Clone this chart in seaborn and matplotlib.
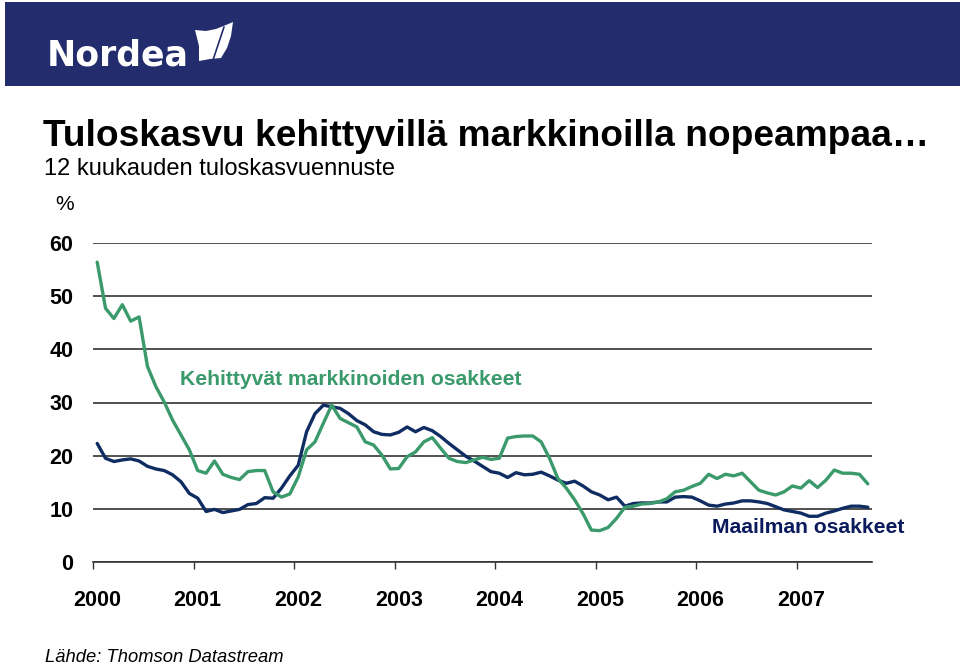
import numpy as np
import pandas as pd
import matplotlib
matplotlib.use("Agg")
import matplotlib.pyplot as plt
import seaborn as sns
from matplotlib.patches import Rectangle, Polygon

# ---- data (monthly, Jan 2000 .. Sep 2007) ----
years = ["2000", "2001", "2002", "2003", "2004", "2005", "2006", "2007"]
series_names = ["Maailman osakkeet", "Kehittyvät markkinoiden osakkeet"]

emerging = [56.4, 47.7, 45.8, 48.4, 45.3, 46.1, 36.8, 33.0, 30.1, 26.7, 23.9, 21.1,
            17.2, 16.7, 19.0, 16.5, 15.9, 15.5, 17.0, 17.2, 17.2, 13.2, 12.2, 12.8,
            16.0, 21.1, 22.6, 26.1, 29.5, 27.0, 26.2, 25.4, 22.6, 22.0, 20.1, 17.5,
            17.6, 19.8, 20.7, 22.6, 23.4, 21.4, 19.5, 18.9, 18.7, 19.2, 19.7, 19.3,
            19.5, 23.3, 23.6, 23.7, 23.7, 22.6, 19.5, 15.7, 13.9, 11.7, 9.1, 6.0,
            5.9, 6.5, 8.2, 10.3, 10.5, 10.9, 11.0, 11.3, 11.9, 13.2, 13.5, 14.2,
            14.8, 16.5, 15.7, 16.5, 16.2, 16.7, 15.1, 13.5, 13.0, 12.6, 13.2, 14.3,
            13.9, 15.3, 14.0, 15.4, 17.3, 16.7, 16.7, 16.5, 14.7]

world = [22.3, 19.5, 18.9, 19.2, 19.4, 19.0, 18.0, 17.5, 17.2, 16.4, 15.1, 12.9,
         12.0, 9.5, 9.9, 9.3, 9.6, 9.9, 10.8, 11.0, 12.1, 12.0, 13.9, 16.2,
         18.2, 24.5, 27.9, 29.5, 29.2, 28.9, 27.9, 26.6, 25.8, 24.5, 24.0, 23.9,
         24.4, 25.4, 24.5, 25.3, 24.7, 23.6, 22.3, 21.1, 19.9, 19.0, 18.0, 17.0,
         16.7, 15.9, 16.8, 16.4, 16.5, 16.9, 16.2, 15.4, 14.8, 15.2, 14.3, 13.2,
         12.6, 11.7, 12.2, 10.5, 11.0, 11.1, 11.1, 11.3, 11.3, 12.2, 12.3, 12.2,
         11.5, 10.7, 10.5, 10.9, 11.1, 11.5, 11.5, 11.3, 11.0, 10.4, 9.8, 9.5,
         9.2, 8.6, 8.6, 9.2, 9.6, 10.1, 10.5, 10.5, 10.3]

y_ticks = [0, 10, 20, 30, 40, 50, 60]

GREEN = "#3b9a6b"
NAVY = "#0f2d62"
NAVY_TEXT = "#0b1a5c"
BAND = "#232d6e"

W, H = 960, 668


def px(x, y):
    return (x / W, 1 - y / H)


sns.set_theme(style="white")
plt.rcParams['font.family'] = ['Liberation Sans', 'DejaVu Sans']

fig = plt.figure(figsize=(9.6, 6.68), dpi=100)

# ---- header band with logo ----
fig.patches.append(Rectangle(px(5, 86), 1 - 5 / W, 84 / H, transform=fig.transFigure,
                             facecolor=BAND, edgecolor="none", zorder=0))
fig.text(*px(47, 66), "Nordea", color="white", fontsize=25, fontweight="bold",
         family=["DejaVu Sans"], va="baseline")
sail = [px(195, 30), px(206, 31), px(216, 29), px(226, 25), px(233, 22),
        px(231, 36), px(227, 48), px(221, 58), px(210, 59), px(199, 61),
        px(199, 46)]
fig.patches.append(Polygon(sail, closed=True, transform=fig.transFigure,
                           facecolor="white", edgecolor="none", zorder=1))
fig.lines.append(plt.Line2D([px(224, 27)[0], px(213, 60)[0]],
                            [px(224, 27)[1], px(213, 60)[1]],
                            transform=fig.transFigure, color=BAND, lw=1.2, zorder=2))

# ---- titles ----
fig.text(*px(43, 146), "Tuloskasvu kehittyvillä markkinoilla nopeampaa…",
         fontsize=26.7, fontweight="bold", color="black", va="baseline")
fig.text(*px(44, 175), "12 kuukauden tuloskasvuennuste", fontsize=17,
         color="black", va="baseline")
fig.text(*px(55, 210), "%", fontsize=15, color="black", va="baseline")
fig.text(*px(45, 662), "Lähde: Thomson Datastream", fontsize=13.2,
         style="italic", color="black", va="baseline")

# ---- chart ----
ax = fig.add_axes([93 / W, 1 - 562 / H, (872 - 93) / W, (562 - 243) / H])
months = np.arange(len(world))
df = pd.DataFrame({
    "month": np.concatenate([months, months]),
    "value": world + emerging,
    "series": [series_names[0]] * len(world) + [series_names[1]] * len(emerging),
})
sns.lineplot(data=df, x="month", y="value", hue="series",
             hue_order=series_names,
             palette={series_names[0]: NAVY, series_names[1]: GREEN},
             linewidth=2.4, legend=False, ax=ax)

ax.set_xlim(-0.5, len(world) - 0.5)
ax.set_ylim(0, 60)
ax.set_xlabel("")
ax.set_ylabel("")

for s in ["top", "right", "left"]:
    ax.spines[s].set_visible(False)
ax.spines["bottom"].set_color("#333333")
ax.spines["bottom"].set_linewidth(1.2)

ax.set_yticks(y_ticks)
ax.set_yticklabels([str(v) for v in y_ticks], fontsize=15.5, fontweight="bold")
ax.yaxis.grid(True, color="#3a3a3a", linewidth=1.25)
ax.set_axisbelow(True)
ax.tick_params(axis="y", length=0, pad=14, labelcolor="black")

ax.set_xticks([12 * k for k in range(len(years))])
ax.set_xticklabels(years, fontsize=15.5, fontweight="bold")
ax.set_xticks([12 * k - 0.5 for k in range(len(years))], minor=True)
ax.tick_params(axis="x", which="major", length=0, pad=20, labelcolor="black")
ax.tick_params(axis="x", which="minor", bottom=True, length=5, width=1,
               color="#333333", direction="out")

ax.text(9.9, 33.3, "Kehittyvät markkinoiden osakkeet", color=GREEN,
        fontsize=15.2, fontweight="bold", va="baseline")
ax.text(73.4, 5.45, "Maailman osakkeet", color=NAVY_TEXT,
        fontsize=15.2, fontweight="bold", va="baseline")

fig.savefig("out.png", dpi=100)
